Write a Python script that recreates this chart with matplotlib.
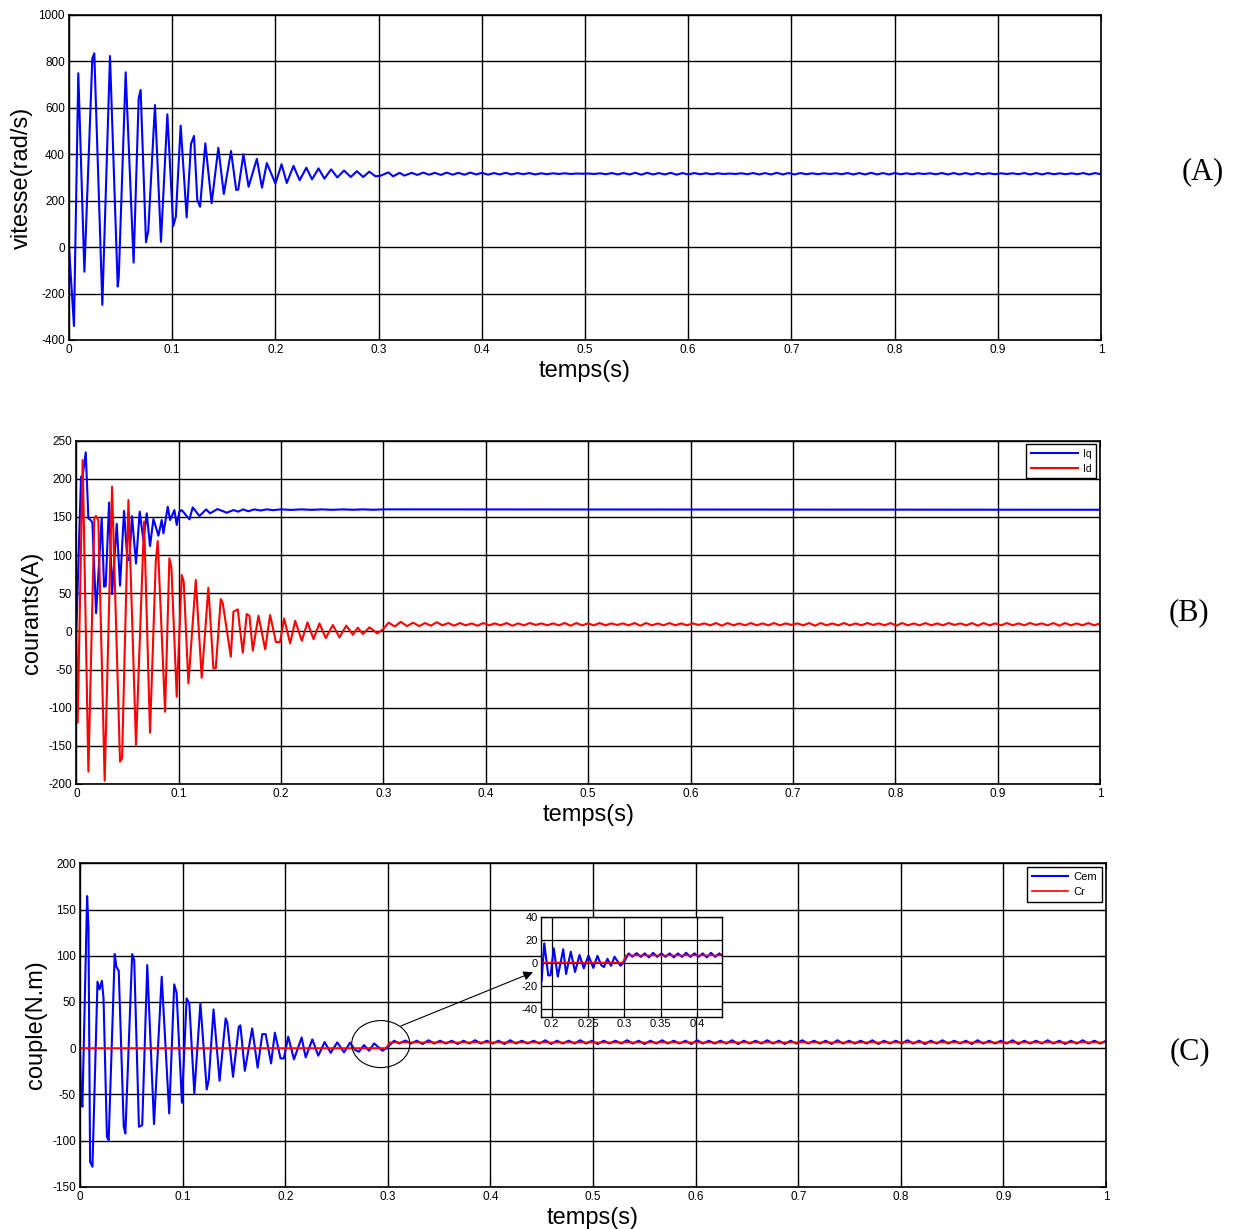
import numpy as np
import matplotlib.pyplot as plt
from matplotlib.patches import Ellipse

plt.rcParams['font.family'] = ['Liberation Sans', 'DejaVu Sans']
plt.rcParams['axes.unicode_minus'] = False

# ---- (A) speed: transient extrema, then steady ripple ----
speed_t = [0, 0.0048, 0.009, 0.0149, 0.0226, 0.0245, 0.0323, 0.0397, 0.0472, 0.0482,
           0.0549, 0.0626, 0.0675, 0.0694, 0.0746, 0.0768, 0.0833, 0.0891, 0.0953, 0.101,
           0.1035, 0.1082, 0.114, 0.1182, 0.1211, 0.1243, 0.127, 0.1321, 0.1382, 0.1447,
           0.150, 0.157, 0.162, 0.164, 0.169, 0.174, 0.182, 0.187, 0.1917, 0.200,
           0.206, 0.211, 0.2175, 0.2235, 0.230, 0.2355, 0.2418, 0.2475, 0.254, 0.260,
           0.2665, 0.273, 0.279, 0.285, 0.291, 0.297, 0.3015, 0.3095, 0.314, 0.3205,
           0.325, 0.332]
speed_v = [0, -340, 749, -106, 813, 835, -249, 823, -170, -130,
           753, -67, 641, 677, 21, 70, 612, 23, 572, 91,
           131, 523, 128, 444, 479, 203, 174, 447, 189, 428,
           229, 414, 246, 248, 400, 260, 380, 256, 362, 274,
           357, 276, 350, 288, 342, 292, 339, 295, 335, 300,
           330, 302, 327, 302, 325, 305, 307, 322, 305, 320,
           308, 320]
speed_ss_start = 0.3375
speed_ss = [311, 321, 312, 320, 311, 321, 312, 320, 312, 321, 313, 320,
            312, 319, 313, 320, 313, 319, 314, 319, 313, 318, 314, 318,
            315, 318, 315, 317, 316, 317, 315, 318, 314, 319, 313, 319,
            313, 320, 312, 320, 313, 319, 313, 320, 312, 319, 313, 319,
            314, 318, 314, 318, 315, 317, 315, 318, 314, 319, 313, 319,
            313, 320, 313, 319, 313, 319, 314, 318, 314, 318, 315, 318,
            314, 319, 313, 319, 313, 320, 313, 319, 313, 319, 314, 318,
            314, 318, 315, 318, 314, 319, 313, 319, 313, 319, 313, 319,
            314, 318, 314, 318, 315, 318, 314, 319, 313, 319, 313, 319,
            314, 318, 314, 318, 314, 319, 313, 319, 314]

# ---- (B) currents ----
iq_t = [0, 0.0046, 0.0059, 0.0092, 0.0118, 0.0140, 0.0157, 0.0193, 0.0248, 0.0271,
        0.0287, 0.0320, 0.0349, 0.0395, 0.0427, 0.0466, 0.0499, 0.0518, 0.0544, 0.0583,
        0.0619, 0.0655, 0.0688, 0.0720, 0.0753, 0.0777, 0.0802, 0.0834, 0.0851, 0.0893,
        0.0916, 0.0958, 0.0981, 0.1007, 0.1030, 0.1105, 0.1137, 0.1203, 0.1268, 0.1307,
        0.1379, 0.1470, 0.1535, 0.158, 0.163, 0.168, 0.174, 0.180, 0.186, 0.192,
        0.200, 0.210, 0.220, 0.230, 0.240, 0.250, 0.260, 0.270, 0.280, 0.290,
        0.300, 1.0]
iq_v = [0, 202.8, 200.6, 234.7, 148, 146, 142.5, 24, 149, 58.6,
        59.5, 169, 49, 141, 60, 158, 93.6, 93.6, 151, 89,
        157, 119.8, 154.8, 111.9, 147.3, 137, 125.5, 146, 128.5, 163.5,
        146, 159.1, 139.5, 157, 159, 146.9, 162.6, 151.3, 160, 154.8,
        160.4, 155.6, 159.1, 157, 160, 157.5, 160, 158.5, 160, 159,
        160, 159.3, 160, 159.4, 160, 159.4, 160, 159.5, 160, 159.5,
        160, 159.5]

id_t = [0, 0.0013, 0.0062, 0.0118, 0.0176, 0.0192, 0.0215, 0.0277, 0.0349, 0.0427,
        0.0447, 0.0509, 0.0583, 0.0662, 0.0720, 0.0776, 0.0795, 0.0867, 0.0909, 0.0929,
        0.0981, 0.1030, 0.1049, 0.1095, 0.1167, 0.1225, 0.1290, 0.1339, 0.1362, 0.1411,
        0.1431, 0.1509, 0.1535, 0.1577, 0.1626, 0.1665, 0.1691, 0.1724, 0.1779, 0.1845,
        0.1893, 0.1950, 0.1990, 0.2030, 0.2089, 0.2138, 0.2203, 0.2258, 0.2317, 0.2375,
        0.2437, 0.2506, 0.2570, 0.2637, 0.2702, 0.2750, 0.2800, 0.2864, 0.2940, 0.2998,
        0.3050, 0.3110, 0.3170, 0.3230, 0.3290]
id_v = [0, -119.7, 224.7, -183.9, 148.2, 151.3, 146, -195.7, 189.7, -170.8,
        -166.4, 172.2, -149, 143.8, -132.8, 91.4, 118.5, -105.3, 95.8, 83.5,
        -85.6, 73.9, 65.2, -68.1, 67.4, -60.7, 57.3, -48.4, -48.4, 42.4,
        36.8, -33.2, 25.8, 28.9, -27.9, 22.8, 20.6, -25.3, 20.6, -23.5,
        21.5, -14, -14, 17, -15.7, 14, -12.2, 11.9, -10, 10.5,
        -8.7, 8.4, -7.8, 7.5, -4.3, 4.9, -3.4, 5.3, -2.5, 3,
        11.5, 6.5, 12.5, 7, 11.4]
id_ss_start = 0.335
id_ss = [7, 11, 7.5, 12, 8, 11, 7.5, 11, 8, 10.5, 7.5, 11,
         8, 10.5, 8, 11, 7.5, 10.5, 8, 11, 8.5, 10.5, 8, 10.5,
         8, 11, 7.5, 11, 8, 10.5, 8, 11, 8, 10.5, 8.5, 10.5,
         8, 11, 7.5, 11, 8, 10.5, 8, 11, 8, 10.5, 8, 10.5,
         8.5, 10.5, 8, 11, 7.5, 11, 8, 10.5, 8, 11, 8, 10.5,
         8, 11, 8, 10.5, 8.5, 10.5, 8, 11, 7.5, 11, 8, 10.5,
         8, 11, 8, 10.5, 8, 11, 8.5, 10.5, 8, 11, 7.5, 11,
         8, 10.5, 8, 11, 8, 10.5, 8, 11, 8.5, 10.5, 8, 11,
         7.5, 11, 8, 10.5, 8, 11, 8, 10.5, 8, 11, 8.5, 10.5,
         8, 11, 7.5, 11, 8, 10.5, 8, 11, 8, 10.5]

# ---- (C) torque ----
cem_t = [0, 0.0010, 0.0023, 0.0069, 0.0082, 0.0098, 0.0121, 0.0170, 0.0190, 0.0213,
         0.0229, 0.0262, 0.0279, 0.0338, 0.0354, 0.0377, 0.0426, 0.0442, 0.0508, 0.0528,
         0.0574, 0.0606, 0.0655, 0.0721, 0.0796, 0.0869, 0.0918, 0.0941, 0.0993, 0.1039,
         0.1065, 0.1114, 0.1173, 0.1235, 0.1255, 0.1301, 0.1360, 0.1419, 0.1435, 0.1491,
         0.1547, 0.1563, 0.1606, 0.1678, 0.1731, 0.1776, 0.1809, 0.1862, 0.1899, 0.1954,
         0.1986, 0.2029, 0.2085, 0.2160, 0.2199, 0.2264, 0.2322, 0.2384, 0.2443, 0.2507,
         0.2573, 0.2631, 0.2680, 0.2719, 0.2768, 0.2817, 0.2866, 0.2948, 0.2997, 0.3061,
         0.3110, 0.3170]
cem_v = [0, -52.6, -63.4, 164.6, 131.4, -123, -128.4, 71.9, 63.6, 72.9,
         53.8, -95.9, -99.5, 101.8, 88.1, 83.8, -85.1, -92.3, 101.8, 95.3,
         -85.1, -83.3, 89.9, -82.2, 77.3, -70.7, 69, 60, -59.1, 53.8,
         48.4, -49, 48.4, -44.7, -33.9, 41.9, -35.3, 32.2, 27.8, -31,
         23.1, 24.6, -24.5, 21.4, -21.2, 15.2, 15.2, -16.5, 16.7, -11.1,
         -11.1, 12.4, -12.2, 11.6, -10, 9.5, -8.2, 6.6, -5, 6.2,
         -4.6, 5.9, -2, -3.9, 3.3, -2.8, 5.1, -2.8, 0.8, 8,
         5.1, 8.2]
cem_ss_start = 0.3225
cem_ss = [5, 8, 4.5, 8.5, 5, 8, 5, 8, 4.5, 8, 5, 8.5,
          5, 8, 5, 8, 4.5, 8.5, 5, 8, 5, 8, 5, 8.5,
          4.5, 8, 5, 8, 5, 8.5, 5, 8, 4.5, 8, 5, 8,
          5, 8.5, 5, 8, 4.5, 8, 5, 8.5, 5, 8, 5, 8,
          4.5, 8.5, 5, 8, 5, 8, 5, 8.5, 4.5, 8, 5, 8,
          5, 8.5, 5, 8, 4.5, 8, 5, 8.5, 5, 8, 5, 8,
          4.5, 8.5, 5, 8, 5, 8, 5, 8.5, 4.5, 8, 5, 8,
          5, 8.5, 5, 8, 4.5, 8, 5, 8.5, 5, 8, 5, 8,
          4.5, 8.5, 5, 8, 5, 8, 5, 8.5, 4.5, 8, 5, 8,
          5, 8.5, 5, 8, 4.5, 8, 5, 8.5, 5, 8, 5, 8]
cr_t = [0, 0.298, 0.302, 1.0]
cr_v = [0, 0, 6.2, 6.2]

xticks = [0, 0.1, 0.2, 0.3, 0.4, 0.5, 0.6, 0.7, 0.8, 0.9, 1]
xtick_labels = ['0', '0.1', '0.2', '0.3', '0.4', '0.5', '0.6', '0.7', '0.8', '0.9', '1']


def join(t, v, start, ss):
    ts = np.linspace(start, 1.0, len(ss))
    return np.concatenate([t, ts]), np.concatenate([v, ss])


def style(ax, yticks, ylim, ylabel, ypad):
    ax.set_xlim(0, 1)
    ax.set_ylim(*ylim)
    ax.set_xticks(xticks)
    ax.set_xticklabels(xtick_labels)
    ax.set_yticks(yticks)
    ax.set_yticklabels([str(y) for y in yticks])
    ax.grid(True, color='black', lw=1.0)
    ax.set_axisbelow(True)
    ax.tick_params(direction='in', length=4, labelsize=8.5, top=True, right=True, pad=3)
    for s in ax.spines.values():
        s.set_linewidth(1.2)
    ax.set_xlabel('temps(s)', fontsize=17, labelpad=3)
    ax.set_ylabel(ylabel, fontsize=17, labelpad=ypad)


def legend(ax, fs, hl):
    leg = ax.legend(loc='upper right', fontsize=fs, fancybox=False, framealpha=1,
                    edgecolor='black', handlelength=hl, borderaxespad=0.35,
                    labelspacing=0.45, borderpad=0.45, handletextpad=0.5)
    leg.get_frame().set_linewidth(1.0)


fig = plt.figure(figsize=(12.39, 12.29), dpi=100)

axA = fig.add_axes([0.0557, 0.7234, 0.8329, 0.2644])
ta, va = join(speed_t, speed_v, speed_ss_start, speed_ss)
axA.plot(ta, va, color='blue', lw=1.5)
style(axA, list(range(-400, 1001, 200)), (-400, 1000), 'vitesse(rad/s)', 4)

axB = fig.add_axes([0.0616, 0.3621, 0.8262, 0.2793])
tb, vb = join(id_t, id_v, id_ss_start, id_ss)
axB.plot(iq_t, iq_v, color='blue', lw=1.5, label='Iq')
axB.plot(tb, vb, color='red', lw=1.5, label='Id')
style(axB, list(range(-200, 251, 50)), (-200, 250), 'courants(A)', 4)
legend(axB, 7.5, 4.5)

axC = fig.add_axes([0.0646, 0.0344, 0.8281, 0.2631])
tc, vc = join(cem_t, cem_v, cem_ss_start, cem_ss)
axC.plot(tc, vc, color='blue', lw=1.5, label='Cem')
axC.plot(cr_t, cr_v, color='red', lw=1.2, label='Cr')
style(axC, list(range(-150, 201, 50)), (-150, 200), 'couple(N.m)', 4)
legend(axC, 8, 3.2)

# zoom ellipse
axC.add_patch(Ellipse((0.2931, 4.4), 0.0567, 50.9, fill=False, edgecolor='black',
                      lw=0.8, clip_on=False, zorder=5))

# inset
axIn = fig.add_axes([0.4364, 0.1728, 0.1461, 0.0814])
axIn.plot(tc, vc, color='blue', lw=1.5)
axIn.plot(cr_t, cr_v, color='red', lw=1.2)
axIn.set_xlim(0.185, 0.434)
axIn.set_ylim(-47, 40)
axIn.set_xticks([0.2, 0.25, 0.3, 0.35, 0.4])
axIn.set_xticklabels(['0.2', '0.25', '0.3', '0.35', '0.4'])
axIn.set_yticks([-40, -20, 0, 20, 40])
axIn.set_yticklabels(['-40', '-20', '0', '20', '40'])
axIn.grid(True, color='black', lw=0.9)
axIn.set_axisbelow(True)
axIn.tick_params(direction='in', length=3, labelsize=8, top=True, right=True, pad=2)
for s in axIn.spines.values():
    s.set_linewidth(1.0)

axC.annotate('', xy=(0.1744, -8.4), xycoords=axIn.transData,
             xytext=(0.3127, 24), textcoords='data',
             arrowprops=dict(arrowstyle='-|>', color='black', lw=0.8, mutation_scale=14,
                             shrinkA=0, shrinkB=0),
             annotation_clip=False)

for lab, x, y in [('(A)', 1203, 172), ('(B)', 1189, 613), ('(C)', 1190, 1052)]:
    fig.text(x / 1239, 1 - y / 1229, lab, fontsize=22, family='Liberation Serif',
             ha='center', va='center')

fig.savefig('out.png', dpi=100)
